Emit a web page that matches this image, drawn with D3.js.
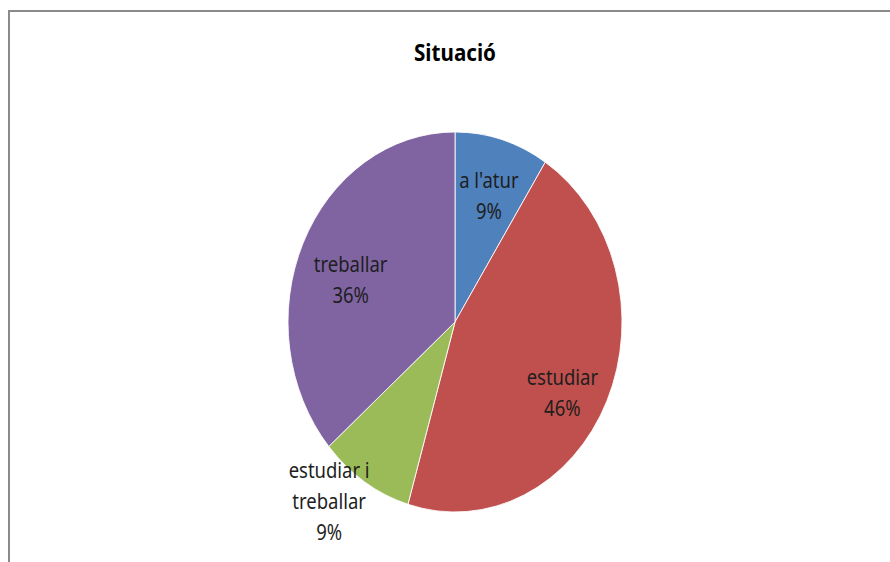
<!DOCTYPE html>
<html>
<head>
<meta charset="utf-8">
<script src="https://cdn.jsdelivr.net/npm/d3@7"></script>
<style>
  body { margin: 0; background: #fff; }
  text { font-family: "Noto Sans", "Open Sans", sans-serif; }
</style>
</head>
<body>
<div id="chart"></div>
<script>
// values (percent of answers)
const categories = ["a l'atur", "estudiar", "estudiar i treballar", "treballar"];
const values = [9.1, 45.5, 9.1, 36.4];
const colors = ["#4F81BD", "#C0504D", "#9BBB59", "#8064A2"];

const width = 890, height = 562;
const cx = 455, cy = 322, rx = 167, ry = 190;

const svg = d3.select("#chart").append("svg")
    .attr("width", width)
    .attr("height", height);

// chart frame (only top and left edges show in the window)
svg.append("rect")
    .attr("x", 9).attr("y", 11)
    .attr("width", 1000).attr("height", 1000)
    .attr("fill", "none")
    .attr("stroke", "#8a8a8a")
    .attr("stroke-width", 2);

svg.append("text")
    .attr("x", 455).attr("y", 61)
    .attr("text-anchor", "middle")
    .attr("font-size", 24)
    .attr("font-weight", "bold")
    .attr("fill", "#000")
    .attr("transform", "translate(455,0) scale(0.86,1) translate(-455,0)")
    .text("Situació");

const pie = d3.pie().sort(null).value(d => d);
const arcs = pie(values);
const arc = d3.arc().innerRadius(0).outerRadius(rx);

// pie drawn as circle, stretched vertically into the ellipse
const g = svg.append("g")
    .attr("transform", `translate(${cx},${cy}) scale(1,${ry / rx})`);

g.selectAll("path")
    .data(arcs)
    .join("path")
    .attr("d", arc)
    .attr("fill", (d, i) => colors[i])
    .attr("stroke", "#fff")
    .attr("stroke-width", 0.8);

// label placement: radius ratio plus small nudges like Excel's best fit
const labelRatio = [0.72, 0.72, 1.25, 0.72];
const labelNudge = [[0, 6], [-2, 15], [-13, -20], [5, 15]];
const labelLines = [["a l'atur"], ["estudiar"], ["estudiar i", "treballar"], ["treballar"]];
const lineH = 31;

arcs.forEach((d, i) => {
    const a = (d.startAngle + d.endAngle) / 2;
    const r = rx * labelRatio[i];
    const x = cx + r * Math.sin(a) + labelNudge[i][0];
    const y = cy - r * Math.cos(a) * (ry / rx) + labelNudge[i][1];
    const lines = labelLines[i].concat([Math.round(values[i]) + "%"]);
    const t = svg.append("text")
        .attr("text-anchor", "middle")
        .attr("font-size", 21)
        .attr("fill", "#1e1e1e")
        .attr("transform", `translate(${x},0) scale(0.88,1) translate(${-x},0)`);
    const y0 = y - (lines.length - 1) * lineH / 2 + 7;
    lines.forEach((s, j) => {
        t.append("tspan")
            .attr("x", x)
            .attr("y", y0 + j * lineH)
            .text(s);
    });
});
</script>
</body>
</html>
